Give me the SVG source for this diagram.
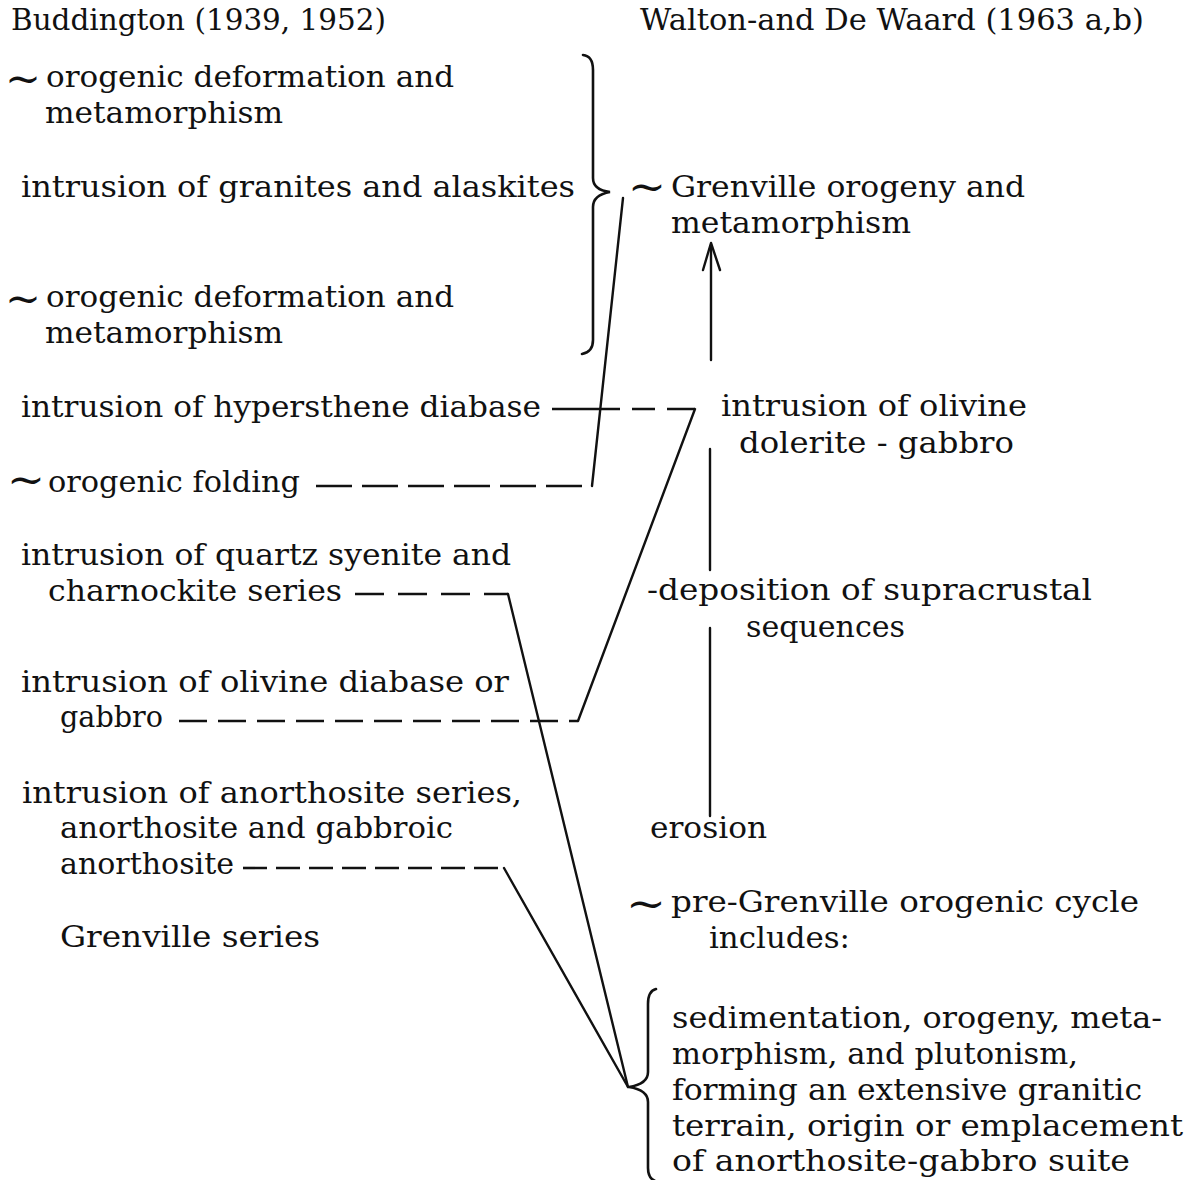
<svg xmlns="http://www.w3.org/2000/svg" width="1193" height="1180" viewBox="0 0 1193 1180">
<style>
text{font-family:"DejaVu Serif","Liberation Serif",serif;font-size:30px;fill:#111}
.t{font-size:42px}
.ln{fill:none;stroke:#111;stroke-width:2.4;stroke-linecap:round;stroke-linejoin:round}
.ds{fill:none;stroke:#111;stroke-width:2.6}
.br{fill:none;stroke:#111;stroke-width:2.6;stroke-linecap:round}
</style>
<rect width="1193" height="1180" fill="#fff"/>
<g id="headers">
<text x="11" y="30" textLength="375" lengthAdjust="spacingAndGlyphs">Buddington (1939, 1952)</text>
<text x="640" y="30" textLength="504" lengthAdjust="spacingAndGlyphs">Walton-and De Waard (1963 a,b)</text>
</g>
<g id="b-orogenic-1">
<text class="t" x="5" y="93" textLength="36" lengthAdjust="spacingAndGlyphs">~</text>
<text x="46" y="87" textLength="408" lengthAdjust="spacingAndGlyphs">orogenic deformation and</text>
<text x="45" y="123" textLength="238" lengthAdjust="spacingAndGlyphs">metamorphism</text>
</g>
<g id="b-granites">
<text x="21" y="197" textLength="554" lengthAdjust="spacingAndGlyphs">intrusion of granites and alaskites</text>
</g>
<g id="b-orogenic-2">
<text class="t" x="5" y="313" textLength="36" lengthAdjust="spacingAndGlyphs">~</text>
<text x="46" y="307" textLength="408" lengthAdjust="spacingAndGlyphs">orogenic deformation and</text>
<text x="45" y="343" textLength="238" lengthAdjust="spacingAndGlyphs">metamorphism</text>
</g>
<g id="b-hypersthene">
<text x="21" y="417" textLength="520" lengthAdjust="spacingAndGlyphs">intrusion of hypersthene diabase</text>
</g>
<g id="b-folding">
<text class="t" x="7" y="494" textLength="38" lengthAdjust="spacingAndGlyphs">~</text>
<text x="48" y="492" textLength="252" lengthAdjust="spacingAndGlyphs">orogenic folding</text>
</g>
<g id="b-quartz">
<text x="21" y="565" textLength="490" lengthAdjust="spacingAndGlyphs">intrusion of quartz syenite and</text>
<text x="48" y="601" textLength="294" lengthAdjust="spacingAndGlyphs">charnockite series</text>
</g>
<g id="b-olivine">
<text x="21" y="692" textLength="488" lengthAdjust="spacingAndGlyphs">intrusion of olivine diabase or</text>
<text x="60" y="727" textLength="103" lengthAdjust="spacingAndGlyphs">gabbro</text>
</g>
<g id="b-anorthosite">
<text x="22" y="803" textLength="500" lengthAdjust="spacingAndGlyphs">intrusion of anorthosite series,</text>
<text x="60" y="838" textLength="393" lengthAdjust="spacingAndGlyphs">anorthosite and gabbroic</text>
<text x="60" y="874" textLength="174" lengthAdjust="spacingAndGlyphs">anorthosite</text>
</g>
<g id="b-grenville-series">
<text x="60" y="947" textLength="260" lengthAdjust="spacingAndGlyphs">Grenville series</text>
</g>
<g id="w-grenville-orogeny">
<text class="t" x="628" y="201" textLength="38" lengthAdjust="spacingAndGlyphs">~</text>
<text x="671" y="197" textLength="354" lengthAdjust="spacingAndGlyphs">Grenville orogeny and</text>
<text x="671" y="233" textLength="240" lengthAdjust="spacingAndGlyphs">metamorphism</text>
</g>
<g id="w-olivine-dolerite">
<text x="721" y="416" textLength="306" lengthAdjust="spacingAndGlyphs">intrusion of olivine</text>
<text x="739" y="453" textLength="275" lengthAdjust="spacingAndGlyphs">dolerite - gabbro</text>
</g>
<g id="w-deposition">
<text x="647" y="600" textLength="445" lengthAdjust="spacingAndGlyphs">-deposition of supracrustal</text>
<text x="746" y="637" textLength="159" lengthAdjust="spacingAndGlyphs">sequences</text>
</g>
<g id="w-erosion">
<text x="650" y="838" textLength="117" lengthAdjust="spacingAndGlyphs">erosion</text>
</g>
<g id="w-pre-grenville">
<text class="t" x="626" y="918" textLength="40" lengthAdjust="spacingAndGlyphs">~</text>
<text x="671" y="912" textLength="468" lengthAdjust="spacingAndGlyphs">pre-Grenville orogenic cycle</text>
<text x="709" y="948" textLength="141" lengthAdjust="spacingAndGlyphs">includes:</text>
</g>
<g id="w-includes-list">
<text x="672" y="1028" textLength="490" lengthAdjust="spacingAndGlyphs">sedimentation, orogeny, meta-</text>
<text x="672" y="1064" textLength="406" lengthAdjust="spacingAndGlyphs">morphism, and plutonism,</text>
<text x="672" y="1100" textLength="470" lengthAdjust="spacingAndGlyphs">forming an extensive granitic</text>
<text x="672" y="1136" textLength="511" lengthAdjust="spacingAndGlyphs">terrain, origin or emplacement</text>
<text x="672" y="1171" textLength="458" lengthAdjust="spacingAndGlyphs">of anorthosite-gabbro suite</text>
</g>
<g id="connectors">
<path class="br" d="M583,55 Q593,56 593,70 L593,178 Q593,190 610,192 Q593,195 593,207 L593,340 Q593,352 582,354"/>
<path class="br" d="M656,989 Q648,991 648,1004 L648,1072 Q648,1084 629,1087 Q648,1090 648,1102 L648,1168 Q648,1178 655,1181"/>
<line class="ds" x1="552" y1="409" x2="695" y2="409" stroke-dasharray="68 12 23 12 28"/>
<polyline class="ln" points="695,409 578,721"/>
<line class="ds" x1="179" y1="721" x2="578" y2="721" stroke-dasharray="28 11"/>
<line class="ds" x1="316" y1="486" x2="592" y2="486" stroke-dasharray="36 10"/>
<polyline class="ln" points="592,486 623,198"/>
<line class="ds" x1="355" y1="594" x2="508" y2="594" stroke-dasharray="29 14"/>
<polyline class="ln" points="508,594 628,1087"/>
<line class="ds" x1="243" y1="868" x2="504" y2="868" stroke-dasharray="24 9"/>
<polyline class="ln" points="504,868 628,1087"/>
<line class="ln" x1="711" y1="245" x2="711" y2="360"/>
<polyline class="ln" points="703,270 711,243 720,270"/>
<line class="ln" x1="710" y1="449" x2="710" y2="570"/>
<line class="ln" x1="710" y1="628" x2="710" y2="816"/>
</g>
</svg>
